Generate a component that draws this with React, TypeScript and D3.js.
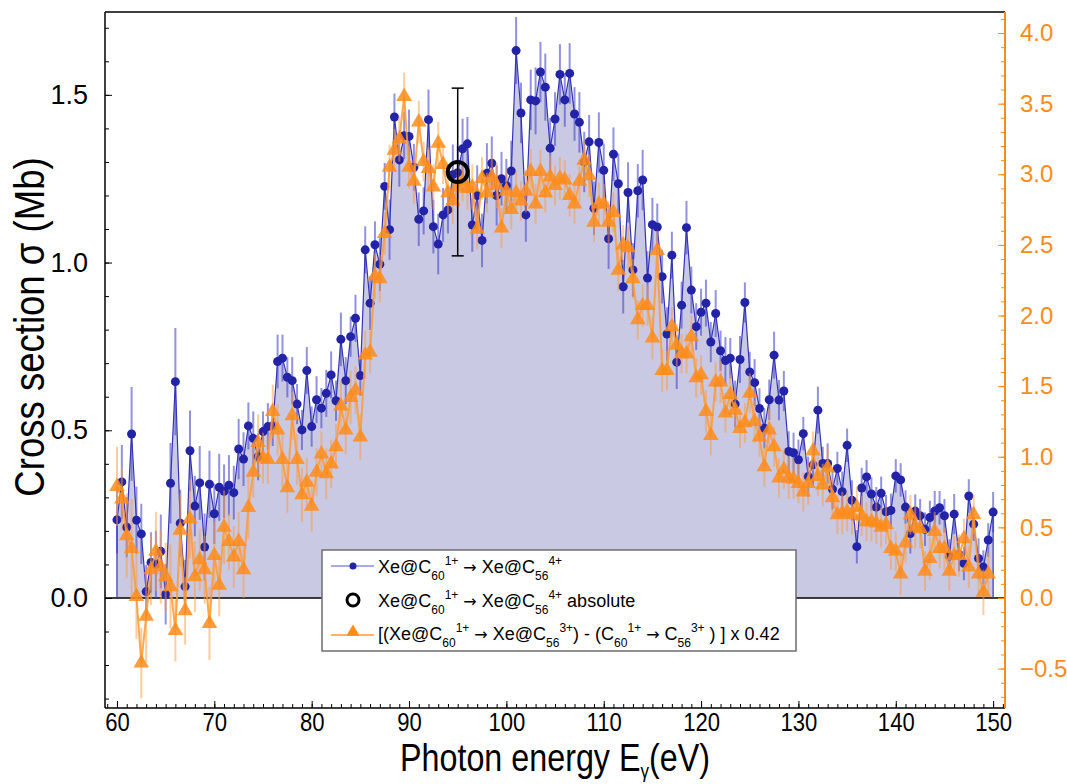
import { useEffect, useRef } from 'react';
import * as d3 from 'd3';

// photon energies (eV) of the scan
const energies = [
  60, 60.5, 61, 61.5, 62, 62.5, 63, 63.5, 64, 64.5,
  65, 65.5, 66, 66.5, 67, 67.5, 68, 68.5, 69, 69.5,
  70, 70.5, 71, 71.5, 72, 72.5, 73, 73.5, 74, 74.5,
  75, 75.5, 76, 76.5, 77, 77.5, 78, 78.5, 79, 79.5,
  80, 80.5, 81, 81.5, 82, 82.5, 83, 83.5, 84, 84.5,
  85, 85.5, 86, 86.5, 87, 87.5, 88, 88.5, 89, 89.5,
  90, 90.5, 91, 91.5, 92, 92.5, 93, 93.5, 94, 94.5,
  95, 95.5, 96, 96.5, 97, 97.5, 98, 98.5, 99, 99.5,
  100, 100.5, 101, 101.5, 102, 102.5, 103, 103.5, 104, 104.5,
  105, 105.5, 106, 106.5, 107, 107.5, 108, 108.5, 109, 109.5,
  110, 110.5, 111, 111.5, 112, 112.5, 113, 113.5, 114, 114.5,
  115, 115.5, 116, 116.5, 117, 117.5, 118, 118.5, 119, 119.5,
  120, 120.5, 121, 121.5, 122, 122.5, 123, 123.5, 124, 124.5,
  125, 125.5, 126, 126.5, 127, 127.5, 128, 128.5, 129, 129.5,
  130, 130.5, 131, 131.5, 132, 132.5, 133, 133.5, 134, 134.5,
  135, 135.5, 136, 136.5, 137, 137.5, 138, 138.5, 139, 139.5,
  140, 140.5, 141, 141.5, 142, 142.5, 143, 143.5, 144, 144.5,
  145, 145.5, 146, 146.5, 147, 147.5, 148, 148.5, 149, 149.5,
  150,
];

// Xe@C60(1+) -> Xe@C56(4+), Mb (left axis)
const blueValues = [
  0.233, 0.346, 0.211, 0.489, 0.232, 0.191, 0.019, 0.106, 0.100, 0.139,
  0.011, 0.342, 0.645, 0.223, 0.034, 0.439, 0.274, 0.343, 0.152, 0.339,
  0.251, 0.330, 0.318, 0.336, 0.314, 0.444, 0.414, 0.513, 0.476, 0.421,
  0.496, 0.511, 0.513, 0.705, 0.715, 0.658, 0.648, 0.578, 0.501, 0.678,
  0.511, 0.591, 0.566, 0.610, 0.665, 0.588, 0.771, 0.648, 0.779, 0.834,
  0.663, 1.038, 0.879, 1.053, 0.995, 1.227, 1.098, 1.434, 1.306, 1.378,
  1.376, 1.284, 1.129, 1.154, 1.426, 1.107, 1.055, 1.142, 1.157, 1.262,
  1.268, 1.339, 1.354, 1.112, 1.200, 1.066, 1.266, 1.296, 1.200, 1.250,
  1.229, 1.273, 1.632, 1.446, 1.142, 1.485, 1.482, 1.568, 1.523, 1.341,
  1.428, 1.561, 1.485, 1.564, 1.443, 1.418, 1.300, 1.360, 1.162, 1.358,
  1.275, 1.071, 1.323, 1.235, 0.928, 1.209, 0.978, 1.214, 1.246, 0.954,
  1.113, 1.106, 0.958, 0.787, 1.022, 0.703, 0.873, 1.104, 0.918, 0.809,
  0.852, 0.879, 0.763, 0.848, 0.737, 0.708, 0.715, 0.578, 0.711, 0.881,
  0.674, 0.642, 0.565, 0.506, 0.591, 0.724, 0.590, 0.617, 0.437, 0.433,
  0.412, 0.490, 0.362, 0.397, 0.560, 0.401, 0.401, 0.324, 0.386, 0.317,
  0.455, 0.291, 0.153, 0.328, 0.361, 0.310, 0.271, 0.312, 0.257, 0.261,
  0.364, 0.352, 0.271, 0.192, 0.259, 0.245, 0.205, 0.240, 0.259, 0.269,
  0.245, 0.125, 0.250, 0.130, 0.103, 0.304, 0.220, 0.118, 0.092, 0.173,
  0.256,
];

const blueErrors = [
  0.10, 0.11, 0.09, 0.14, 0.10, 0.09, 0.08, 0.09, 0.10, 0.11,
  0.09, 0.12, 0.16, 0.10, 0.08, 0.12, 0.09, 0.11, 0.10, 0.10,
  0.09, 0.10, 0.08, 0.09, 0.08, 0.09, 0.08, 0.07, 0.08, 0.07,
  0.06, 0.07, 0.06, 0.08, 0.07, 0.06, 0.07, 0.06, 0.06, 0.07,
  0.06, 0.07, 0.06, 0.07, 0.07, 0.06, 0.08, 0.07, 0.06, 0.07,
  0.06, 0.07, 0.08, 0.07, 0.08, 0.07, 0.09, 0.07, 0.08, 0.07,
  0.08, 0.07, 0.08, 0.07, 0.09, 0.08, 0.09, 0.08, 0.07, 0.09,
  0.08, 0.09, 0.08, 0.08, 0.09, 0.08, 0.09, 0.08, 0.09, 0.08,
  0.08, 0.09, 0.10, 0.09, 0.08, 0.09, 0.10, 0.09, 0.10, 0.09,
  0.08, 0.09, 0.08, 0.09, 0.08, 0.09, 0.09, 0.08, 0.08, 0.09,
  0.08, 0.09, 0.08, 0.09, 0.08, 0.09, 0.08, 0.08, 0.09, 0.08,
  0.08, 0.07, 0.08, 0.08, 0.07, 0.08, 0.07, 0.08, 0.07, 0.07,
  0.07, 0.07, 0.06, 0.07, 0.06, 0.07, 0.06, 0.07, 0.07, 0.06,
  0.06, 0.07, 0.06, 0.06, 0.06, 0.07, 0.06, 0.06, 0.06, 0.06,
  0.06, 0.05, 0.06, 0.06, 0.07, 0.05, 0.06, 0.06, 0.05, 0.06,
  0.05, 0.06, 0.05, 0.06, 0.05, 0.05, 0.06, 0.05, 0.05, 0.05,
  0.05, 0.05, 0.05, 0.06, 0.05, 0.05, 0.05, 0.05, 0.06, 0.05,
  0.05, 0.05, 0.06, 0.05, 0.05, 0.05, 0.05, 0.06, 0.05, 0.05,
  0.06,
];

// [(Xe@C60 -> Xe@C56 3+) - (C60 -> C56 3+)] x 0.42, right axis (60 .. 149.5 eV)
const orangeValues = [
  0.79, 0.70, 0.44, 0.35, 0.01, -0.46, -0.13, 0.20, 0.33, 0.22,
  0.15, 0.08, -0.23, 0.48, -0.09, 0.56, 0.15, 0.27, 0.20, -0.18,
  0.30, 0.09, 0.50, 0.40, 0.29, 0.40, 0.20, 0.64, 0.89, 1.10,
  0.99, 0.98, 1.32, 1.19, 0.98, 0.78, 1.29, 0.98, 0.73, 0.82,
  0.65, 0.89, 1.02, 0.88, 0.95, 1.07, 1.36, 1.19, 1.42, 1.47,
  1.14, 1.72, 1.74, 2.28, 2.26, 2.58, 3.05, 3.17, 3.25, 3.55,
  3.05, 2.95, 3.37, 3.09, 3.04, 2.91, 3.22, 3.07, 2.87, 2.81,
  2.91, 2.95, 2.90, 2.91, 2.61, 2.97, 2.87, 2.98, 2.92, 2.62,
  2.88, 2.75, 2.87, 2.81, 2.88, 3.02, 2.79, 3.02, 2.87, 2.98,
  2.92, 2.97, 2.96, 2.85, 2.79, 2.95, 3.10, 2.99, 2.66, 2.79,
  2.79, 2.66, 2.73, 2.32, 2.50, 2.48, 2.26, 1.97, 2.07, 2.07,
  1.84, 2.46, 1.61, 1.61, 1.92, 1.79, 1.73, 1.73, 1.85, 1.56,
  1.58, 1.32, 1.15, 1.53, 1.53, 1.31, 1.44, 1.33, 1.20, 1.24,
  1.45, 1.25, 1.14, 0.93, 1.19, 1.07, 0.85, 0.91, 0.85, 0.84,
  0.81, 0.75, 0.81, 1.04, 0.86, 0.80, 0.92, 0.71, 0.59, 0.60,
  0.61, 0.59, 0.64, 0.58, 0.54, 0.54, 0.53, 0.50, 0.52, 0.35,
  0.33, 0.17, 0.39, 0.59, 0.50, 0.49, 0.19, 0.28, 0.47, 0.35,
  0.35, 0.19, 0.30, 0.30, 0.42, 0.22, 0.59, 0.17, 0.04, 0.17,
];

const orangeErrors = [
  0.28, 0.22, 0.30, 0.35, 0.30, 0.25, 0.32, 0.25, 0.28, 0.26,
  0.24, 0.30, 0.22, 0.26, 0.24, 0.28, 0.25, 0.22, 0.24, 0.26,
  0.24, 0.22, 0.26, 0.20, 0.22, 0.21, 0.20, 0.22, 0.18, 0.20,
  0.18, 0.17, 0.19, 0.18, 0.20, 0.18, 0.17, 0.18, 0.19, 0.17,
  0.18, 0.17, 0.16, 0.18, 0.17, 0.16, 0.18, 0.17, 0.19, 0.17,
  0.16, 0.17, 0.15, 0.16, 0.17, 0.15, 0.16, 0.15, 0.16, 0.17,
  0.15, 0.16, 0.15, 0.14, 0.15, 0.16, 0.15, 0.14, 0.15, 0.16,
  0.15, 0.14, 0.15, 0.16, 0.14, 0.15, 0.14, 0.15, 0.16, 0.14,
  0.15, 0.14, 0.15, 0.14, 0.15, 0.16, 0.14, 0.15, 0.14, 0.15,
  0.14, 0.15, 0.14, 0.15, 0.14, 0.15, 0.14, 0.15, 0.14, 0.15,
  0.14, 0.15, 0.14, 0.15, 0.14, 0.15, 0.14, 0.14, 0.15, 0.14,
  0.15, 0.14, 0.15, 0.14, 0.14, 0.15, 0.14, 0.14, 0.15, 0.14,
  0.14, 0.15, 0.14, 0.14, 0.15, 0.14, 0.14, 0.15, 0.14, 0.14,
  0.14, 0.15, 0.14, 0.14, 0.15, 0.14, 0.14, 0.14, 0.15, 0.14,
  0.14, 0.14, 0.15, 0.14, 0.14, 0.15, 0.14, 0.14, 0.14, 0.15,
  0.14, 0.14, 0.15, 0.14, 0.14, 0.14, 0.15, 0.14, 0.14, 0.15,
  0.14, 0.15, 0.14, 0.14, 0.15, 0.14, 0.14, 0.15, 0.14, 0.14,
  0.15, 0.14, 0.14, 0.15, 0.14, 0.15, 0.14, 0.15, 0.16, 0.15,
];

// absolute measurement
const absEnergy = 95;
const absValue = 1.27;
const absError = 0.25;

const xTicks = [60, 70, 80, 90, 100, 110, 120, 130, 140, 150];
const leftTicks = [0, 0.5, 1.0, 1.5];
const rightTicks = [-0.5, 0, 0.5, 1.0, 1.5, 2.0, 2.5, 3.0, 3.5, 4.0];

const BLUE = '#2323a8';
const ORANGE = '#ff8c1a';
const SANS = '"Liberation Sans", Arial, sans-serif';
const CONDENSE = 0.85;

type Part = [string, 'n' | 'sub' | 'sup' | 'arr'];

function richText(g: any, x: number, y: number, parts: Part[], size: number, small: number) {
  const t = g.append('text')
    .attr('x', x)
    .attr('y', y)
    .style('font-family', SANS)
    .style('font-size', size + 'px')
    .style('white-space', 'pre')
    .attr('fill', '#000');
  let shift = 0;
  parts.forEach(([s, k]) => {
    const target = k === 'sub' ? 7 : k === 'sup' ? -8 : 0;
    const ts = t.append('tspan')
      .attr('dy', target - shift)
      .style('font-size', (k === 'n' || k === 'arr' ? size : small) + 'px')
      .text(s);
    if (k === 'arr') ts.style('font-family', '"DejaVu Sans", sans-serif').style('font-size', (size - 2) + 'px');
    shift = target;
  });
  return t;
}

export default function App() {
  const svgRef = useRef<SVGSVGElement>(null);

  useEffect(() => {
    const svg = d3.select(svgRef.current);
    svg.selectAll('*').remove();

    const left = 105, right = 1005, top = 12, bottom = 708;

    const x = d3.scaleLinear().domain([58.77, 151.22]).range([left, right]);
    const yL = d3.scaleLinear().domain([-0.328, 1.747]).range([bottom, top]);
    const yR = d3.scaleLinear().domain([-0.779, 4.149]).range([bottom, top]);

    const blue = energies.map((e, i) => ({ e, v: blueValues[i], err: blueErrors[i] }));
    const orange = orangeValues.map((v, i) => ({ e: energies[i], v, err: orangeErrors[i] }));

    svg.append('defs').append('clipPath').attr('id', 'plot-clip')
      .append('rect').attr('x', left).attr('y', top)
      .attr('width', right - left).attr('height', bottom - top);

    const plot = svg.append('g').attr('clip-path', 'url(#plot-clip)');

    // filled area under blue curve
    const area = d3.area<any>()
      .x(d => x(d.e))
      .y0(yL(0))
      .y1(d => yL(d.v));
    plot.append('path')
      .datum(blue)
      .attr('fill', '#c9c9e4')
      .attr('d', area);

    // zero line
    plot.append('line')
      .attr('x1', left).attr('x2', right)
      .attr('y1', yL(0)).attr('y2', yL(0))
      .attr('stroke', '#000')
      .attr('stroke-width', 1.5);

    // blue error bars
    plot.selectAll('.berr')
      .data(blue)
      .enter().append('line')
      .attr('x1', d => x(d.e)).attr('x2', d => x(d.e))
      .attr('y1', d => yL(d.v - d.err)).attr('y2', d => yL(d.v + d.err))
      .attr('stroke', '#4a4ac8')
      .attr('stroke-opacity', 0.6)
      .attr('stroke-width', 2);

    // blue line (dropping to zero at both ends)
    const blueOutline = [{ e: blue[0].e, v: 0 }, ...blue, { e: blue[blue.length - 1].e, v: 0 }];
    const line = d3.line<any>().x(d => x(d.e)).y(d => yL(d.v));
    plot.append('path')
      .datum(blueOutline)
      .attr('fill', 'none')
      .attr('stroke', '#3434bb')
      .attr('stroke-width', 1.2)
      .attr('d', line);

    plot.selectAll('.bdot')
      .data(blue)
      .enter().append('circle')
      .attr('cx', d => x(d.e))
      .attr('cy', d => yL(d.v))
      .attr('r', 4.5)
      .attr('fill', BLUE);

    // orange error bars
    plot.selectAll('.oerr')
      .data(orange)
      .enter().append('line')
      .attr('x1', d => x(d.e)).attr('x2', d => x(d.e))
      .attr('y1', d => yR(d.v - d.err)).attr('y2', d => yR(d.v + d.err))
      .attr('stroke', '#ff9a3a')
      .attr('stroke-opacity', 0.5)
      .attr('stroke-width', 2);

    const oline = d3.line<any>().x(d => x(d.e)).y(d => yR(d.v));
    plot.append('path')
      .datum(orange)
      .attr('fill', 'none')
      .attr('stroke', '#ff9a30')
      .attr('stroke-opacity', 0.85)
      .attr('stroke-width', 2)
      .attr('d', oline);

    const tri = d3.symbol().type(d3.symbolTriangle).size(105);
    plot.selectAll('.otri')
      .data(orange)
      .enter().append('path')
      .attr('transform', d => `translate(${x(d.e)},${yR(d.v)})`)
      .attr('d', tri)
      .attr('fill', ORANGE)
      .attr('fill-opacity', 0.85);

    // absolute point
    const ax = x(absEnergy);
    svg.append('line')
      .attr('x1', ax).attr('x2', ax)
      .attr('y1', yL(absValue - absError)).attr('y2', yL(absValue + absError))
      .attr('stroke', '#000').attr('stroke-width', 1.5);
    [absValue - absError, absValue + absError].forEach(v => {
      svg.append('line')
        .attr('x1', ax - 6).attr('x2', ax + 6)
        .attr('y1', yL(v)).attr('y2', yL(v))
        .attr('stroke', '#000').attr('stroke-width', 1.5);
    });
    svg.append('circle')
      .attr('cx', ax).attr('cy', yL(absValue))
      .attr('r', 10)
      .attr('fill', 'none')
      .attr('stroke', '#000')
      .attr('stroke-width', 4);

    // frame
    svg.append('line').attr('x1', left).attr('x2', right).attr('y1', top).attr('y2', top)
      .attr('stroke', '#000').attr('stroke-width', 1.5);
    svg.append('line').attr('x1', left).attr('x2', right).attr('y1', bottom).attr('y2', bottom)
      .attr('stroke', '#000').attr('stroke-width', 1.5);
    svg.append('line').attr('x1', left).attr('x2', left).attr('y1', top).attr('y2', bottom)
      .attr('stroke', '#000').attr('stroke-width', 1.5);
    svg.append('line').attr('x1', right).attr('x2', right).attr('y1', top).attr('y2', bottom)
      .attr('stroke', ORANGE).attr('stroke-width', 2);

    // bottom axis
    const xMinor = d3.range(59, 152, 1);
    svg.append('g')
      .attr('transform', `translate(0,${bottom})`)
      .call(d3.axisBottom(x).tickValues(xMinor).tickSize(-4).tickFormat(() => ''))
      .call(g => g.select('.domain').remove());
    const xa = svg.append('g')
      .attr('transform', `translate(0,${bottom})`)
      .call(d3.axisBottom(x).tickValues(xTicks).tickSize(-7).tickPadding(5).tickFormat(d3.format('d')));
    xa.select('.domain').remove();
    xa.selectAll('text')
      .attr('transform', `scale(${CONDENSE},1)`)
      .style('font-family', SANS)
      .style('font-size', '26px')
      .attr('fill', '#000');

    // left axis
    const lMinor = d3.range(-3, 18, 1).map(d => d / 10);
    svg.append('g')
      .attr('transform', `translate(${left},0)`)
      .call(d3.axisLeft(yL).tickValues(lMinor).tickSize(-4).tickFormat(() => ''))
      .call(g => g.select('.domain').remove());
    const la = svg.append('g')
      .attr('transform', `translate(${left},0)`)
      .call(d3.axisLeft(yL).tickValues(leftTicks).tickSize(-7).tickPadding(17).tickFormat(d3.format('.1f')));
    la.select('.domain').remove();
    la.selectAll('text')
      .style('font-family', SANS)
      .style('font-size', '27px')
      .attr('fill', '#000');

    // right axis
    const rMinor = d3.range(-7, 42, 1).map(d => d / 10);
    svg.append('g')
      .attr('transform', `translate(${right},0)`)
      .call(d3.axisRight(yR).tickValues(rMinor).tickSize(-4).tickFormat(() => ''))
      .call(g => g.select('.domain').remove())
      .call(g => g.selectAll('line').attr('stroke', ORANGE));
    const ra = svg.append('g')
      .attr('transform', `translate(${right},0)`)
      .call(d3.axisRight(yR).tickValues(rightTicks).tickSize(-7).tickPadding(15).tickFormat(d3.format('.1f')));
    ra.select('.domain').remove();
    ra.selectAll('line').attr('stroke', ORANGE);
    ra.selectAll('text')
      .style('font-family', SANS)
      .style('font-size', '24px')
      .attr('fill', ORANGE);

    // axis titles
    const xt = svg.append('text')
      .attr('transform', `translate(400,771) scale(${CONDENSE},1)`)
      .style('font-family', SANS)
      .style('font-size', '38px')
      .attr('fill', '#000');
    xt.append('tspan').text('Photon energy E');
    xt.append('tspan').attr('dy', 7).style('font-size', '20px').text('γ');
    xt.append('tspan').attr('dy', -7).text('(eV)');

    svg.append('text')
      .attr('transform', `translate(44,327) rotate(-90) scale(${CONDENSE},1)`)
      .attr('text-anchor', 'middle')
      .style('font-family', SANS)
      .style('font-size', '43px')
      .attr('fill', '#000')
      .text('Cross section σ (Mb)');

    // legend
    const lg = svg.append('g');
    lg.append('rect')
      .attr('x', 322).attr('y', 550)
      .attr('width', 474).attr('height', 101)
      .attr('fill', '#fff')
      .attr('stroke', '#6e6e6e')
      .attr('stroke-width', 1.5);

    lg.append('line').attr('x1', 331).attr('x2', 374).attr('y1', 566).attr('y2', 566)
      .attr('stroke', '#8c8ce0').attr('stroke-width', 1.5);
    lg.append('circle').attr('cx', 353).attr('cy', 566).attr('r', 3.5).attr('fill', BLUE);

    lg.append('circle').attr('cx', 353).attr('cy', 600).attr('r', 6)
      .attr('fill', 'none').attr('stroke', '#000').attr('stroke-width', 3);

    lg.append('line').attr('x1', 331).attr('x2', 374).attr('y1', 635).attr('y2', 635)
      .attr('stroke', '#ff9a30').attr('stroke-width', 1.5);
    lg.append('path')
      .attr('transform', 'translate(353,632)')
      .attr('d', d3.symbol().type(d3.symbolTriangle).size(75)())
      .attr('fill', ORANGE);

    richText(lg, 378, 573, [
      ['Xe@C', 'n'], ['60', 'sub'], ['1+', 'sup'], [' ', 'n'], ['\u2192', 'arr'], [' Xe@C', 'n'], ['56', 'sub'], ['4+', 'sup'],
    ], 18, 12);
    richText(lg, 378, 607, [
      ['Xe@C', 'n'], ['60', 'sub'], ['1+', 'sup'], [' ', 'n'], ['\u2192', 'arr'], [' Xe@C', 'n'], ['56', 'sub'], ['4+', 'sup'], [' absolute', 'n'],
    ], 18, 12);
    richText(lg, 378, 640, [
      ['[(Xe@C', 'n'], ['60', 'sub'], ['1+', 'sup'], [' ', 'n'], ['\u2192', 'arr'], [' Xe@C', 'n'], ['56', 'sub'], ['3+', 'sup'],
      [') - (C', 'n'], ['60', 'sub'], ['1+', 'sup'], [' ', 'n'], ['\u2192', 'arr'], [' C', 'n'], ['56', 'sub'], ['3+', 'sup'],
      [' ) ] x 0.42', 'n'],
    ], 18, 12);
  }, []);

  return (
    <svg
      ref={svgRef}
      width={1067}
      height={784}
      style={{ position: 'absolute', left: 0, top: 0, background: '#fff' }}
    />
  );
}
